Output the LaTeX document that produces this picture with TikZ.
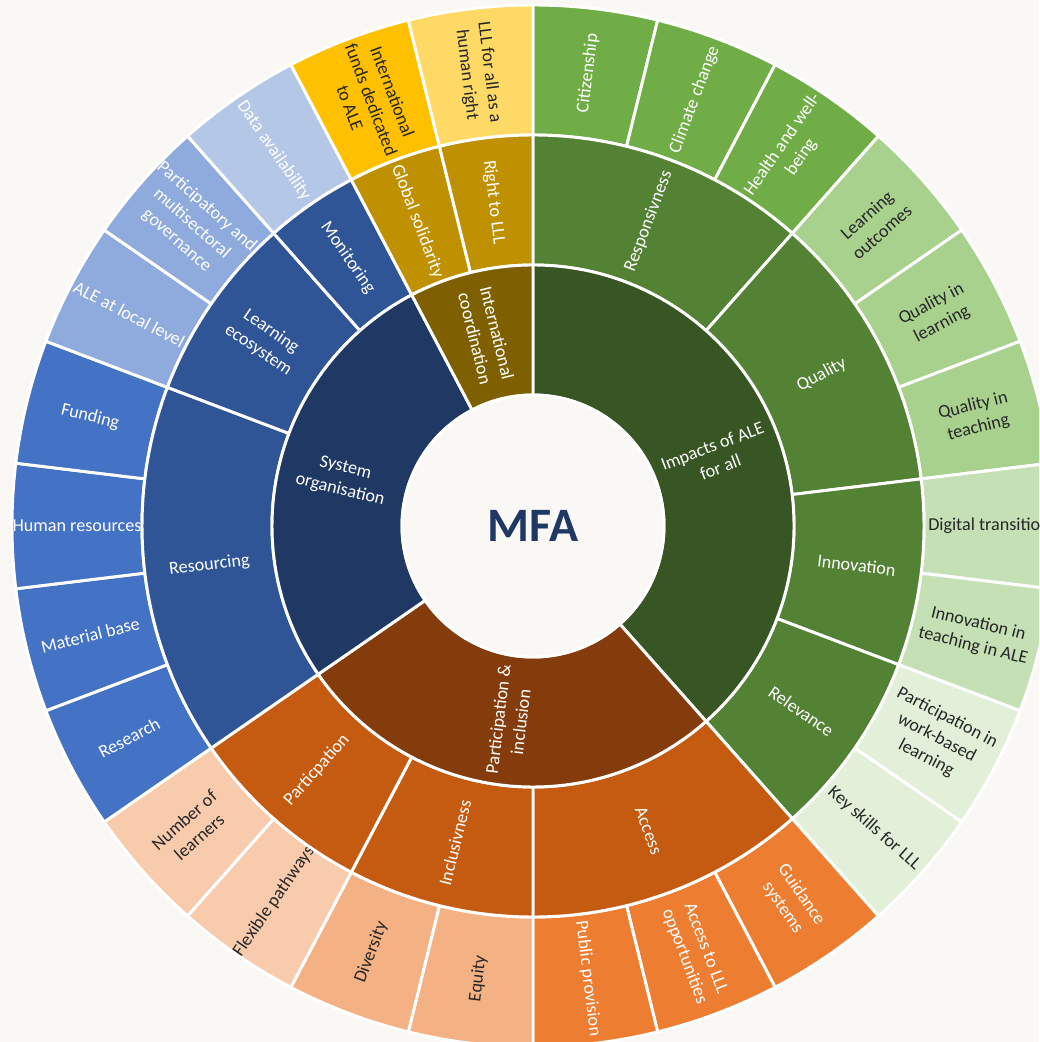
\documentclass[tikz,border=0pt]{standalone}
\usepackage{fontspec}
\setmainfont{Carlito}
\usepackage{xcolor}
\usepackage{tikz}

\definecolor{paper}{HTML}{F9F8F5}
\definecolor{navy}{HTML}{1F3864}
\definecolor{inkdark}{HTML}{262626}
% greens
\definecolor{grA}{HTML}{375623}
\definecolor{grB}{HTML}{548235}
\definecolor{grC}{HTML}{70AD47}
\definecolor{grD}{HTML}{A9D18E}
\definecolor{grE}{HTML}{C5E0B4}
\definecolor{grF}{HTML}{E2F0D9}
% oranges
\definecolor{orA}{HTML}{843C0C}
\definecolor{orB}{HTML}{C55A11}
\definecolor{orC}{HTML}{ED7D31}
\definecolor{orD}{HTML}{F4B183}
\definecolor{orE}{HTML}{F8CBAD}
% blues
\definecolor{blA}{HTML}{203864}
\definecolor{blB}{HTML}{2F5597}
\definecolor{blC}{HTML}{4472C4}
\definecolor{blD}{HTML}{8FAADC}
\definecolor{blE}{HTML}{B4C7E7}
% golds
\definecolor{gdA}{HTML}{7F6000}
\definecolor{gdB}{HTML}{BF9000}
\definecolor{gdC}{HTML}{FFC000}
\definecolor{gdD}{HTML}{FFD966}

\tikzset{
	part/.style={draw=white,line width=2.2pt,line join=round},
	lbl/.style={align=center,inner sep=0pt,font=\fontsize{13.6}{17}\selectfont}
}

% annular piece: inner radius, outer radius, first leaf, leaves, fill
\newcommand{\sunpart}[5]{%
	\pgfmathsetmacro{\partA}{90-360/26*#3}%
	\pgfmathsetmacro{\partB}{90-360/26*(#3+#4)}%
	\filldraw[part,fill=#5] (\partA:#1) -- (\partA:#2)
		arc[start angle=\partA,end angle=\partB,radius=#2]
		-- (\partB:#1) arc[start angle=\partB,end angle=\partA,radius=#1] -- cycle;
}
% label of a piece: name, radius, first leaf, leaves, text colour, text
\newcommand{\sunlabel}[6]{%
	\pgfmathsetmacro{\midang}{90-360/26*(#3+#4/2)}%
	\pgfmathsetmacro{\txtrot}{\midang>-90 ? \midang : \midang+180}%
	\node[lbl,text=#5,rotate=\txtrot] (#1) at (\midang:#2) {#6};
}

\begin{document}
\begin{tikzpicture}[x=0.75pt,y=0.75pt]
	\path[use as bounding box] (-533,-516) rectangle (506,526);
	\clip (-533,-516) rectangle (506,526);
	\fill[paper] (-533,-516) rectangle (506,526);

	% outer ring
	\foreach \fc/\tc/\txt [count=\i from 0] in {
		grC/white/Citizenship, grC/white/Climate change, grC/white/{Health and well-\\being},
		grD/inkdark/{Learning\\outcomes}, grD/inkdark/{Quality in\\learning}, grD/inkdark/{Quality in\\teaching},
		grE/inkdark/Digital transition, grE/inkdark/{Innovation in\\teaching in ALE},
		grF/inkdark/{Participation in\\work-based\\learning}, grF/inkdark/Key skills for LLL,
		orC/white/{Guidance\\systems}, orC/white/{Access to LLL\\opportunities}, orC/white/Public provision,
		orD/inkdark/Equity, orD/inkdark/Diversity,
		orE/inkdark/Flexible pathways, orE/inkdark/{Number of\\learners},
		blC/white/Research, blC/white/Material base, blC/white/Human resources, blC/white/Funding,
		blD/white/ALE at local level, blD/white/{Participatory and\\multisectoral\\governance},
		blE/white/Data availability,
		gdC/inkdark/{International\\funds dedicated\\to ALE},
		gdD/inkdark/{LLL for all as a\\human right}}{
		\sunpart{391}{521}{\i}{1}{\fc}
		\sunlabel{leaf-\i}{456}{\i}{1}{\tc}{\txt}
	}

	% middle ring
	\foreach \f/\n/\fc/\txt [count=\k] in {
		0/3/grB/Responsivness, 3/3/grB/Quality, 6/2/grB/Innovation, 8/2/grB/Relevance,
		10/3/orB/Access, 13/2/orB/Inclusivness, 15/2/orB/Particpation,
		17/4/blB/Resourcing, 21/2/blB/{Learning\\ecosystem}, 23/1/blB/Monitoring,
		24/1/gdB/Global solidarity, 25/1/gdB/Right to LLL}{
		\sunpart{261}{391}{\f}{\n}{\fc}
		\sunlabel{mid-\k}{326}{\f}{\n}{white}{\txt}
	}

	% inner ring
	\foreach \f/\n/\fc/\txt [count=\k] in {
		0/10/grA/{Impacts of ALE\\for all}, 10/7/orA/{Participation \&\\inclusion},
		17/7/blA/{System\\organisation}, 24/2/gdA/{International\\coordination}}{
		\sunpart{131}{261}{\f}{\n}{\fc}
		\sunlabel{core-\k}{196}{\f}{\n}{white}{\txt}
	}

	\filldraw[fill=paper,draw=white,line width=2.2pt] (0,0) circle[radius=131];
	\node[text=navy,font=\fontsize{36}{40}\selectfont\bfseries] (mfa) at (0,0) {MFA};
\end{tikzpicture}
\end{document}
